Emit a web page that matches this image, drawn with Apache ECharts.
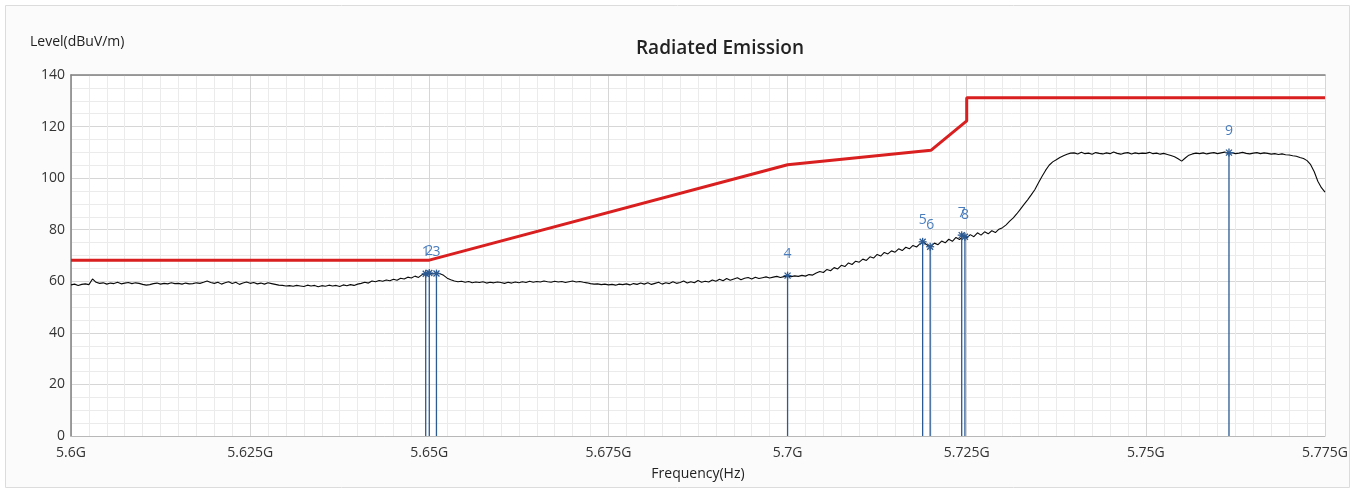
<!DOCTYPE html>
<html>
<head>
<meta charset="utf-8">
<script src="https://cdn.jsdelivr.net/npm/echarts@6/dist/echarts.min.js"></script>
<style>
html,body{margin:0;padding:0;background:#ffffff;}
#chart{width:1361px;height:490px;}
</style>
</head>
<body>
<div id="chart"></div>
<script>
// Sweep definition (MHz)
var sweepStartMHz = 5600;
var sweepStepMHz = 0.5;

var traceLevel = [
58.6,58.9,58.4,58.8,59.0,58.7,60.9,59.6,59.2,59.4,58.9,59.3,59.1,59.6,59.0,59.3,59.5,59.1,59.4,59.2,
58.8,58.5,58.7,59.1,59.3,58.9,59.2,59.0,59.4,59.1,59.2,58.9,59.3,59.0,59.1,59.4,59.2,59.6,60.1,59.5,
59.2,59.6,58.9,59.4,59.8,59.1,59.6,58.8,59.3,59.7,59.2,59.5,59.0,59.3,58.9,59.4,59.1,58.8,58.5,58.4,
58.2,58.3,58.1,58.4,58.2,58.0,58.5,58.2,58.4,57.9,58.3,58.1,58.5,58.2,58.4,58.0,58.6,58.3,58.7,58.4,
58.9,59.2,59.6,59.3,60.1,59.8,60.3,60.0,60.5,60.2,60.8,60.4,61.2,60.9,61.6,61.3,62.0,61.5,62.6,62.9,
63.2,62.8,63.4,62.9,62.3,61.2,60.6,60.1,59.8,60.0,59.6,59.9,59.4,59.7,59.5,59.8,59.3,59.6,59.4,59.7,
59.5,59.2,59.6,59.3,59.7,59.4,59.8,59.5,60.0,59.6,59.9,59.7,60.1,59.8,59.6,60.0,59.7,59.9,59.5,59.8,
60.1,59.7,59.9,59.6,59.4,59.1,58.9,59.0,58.7,58.9,58.6,58.8,58.5,58.9,58.7,59.0,58.6,59.1,58.8,59.3,
58.9,59.4,58.8,59.2,59.6,58.9,59.4,59.1,59.8,59.2,59.5,60.1,59.3,59.8,59.4,60.3,59.6,60.0,59.7,60.5,
60.0,60.8,60.2,61.1,60.4,60.9,61.4,60.6,61.2,61.5,60.9,61.6,61.1,61.4,61.7,61.3,61.6,61.9,61.5,61.8,
62.0,61.8,62.1,61.9,62.3,62.0,62.6,62.4,63.2,63.8,63.4,64.6,64.1,65.3,64.8,66.2,65.7,67.1,66.5,67.8,
67.4,68.6,68.1,69.5,69.0,70.4,69.8,71.2,70.6,71.8,71.3,72.6,71.9,73.2,72.6,73.9,73.3,74.6,75.2,74.0,
73.6,74.8,74.2,75.6,74.9,76.3,75.5,77.0,76.2,77.6,76.8,78.1,77.3,78.8,77.9,79.2,78.4,79.6,78.9,80.2,
80.8,81.9,83.3,84.6,86.2,88.0,89.8,91.6,93.5,95.5,98.1,100.6,103.0,105.0,106.3,107.1,108.0,108.7,109.3,109.7,
109.8,109.4,110.0,109.5,109.7,109.3,109.9,109.6,109.4,109.8,109.5,110.1,109.6,109.3,109.7,109.9,109.4,109.8,109.5,109.7,
109.6,110.0,109.5,109.7,109.3,109.6,109.2,108.8,108.3,107.5,106.6,107.8,108.9,109.4,109.7,109.5,109.8,109.4,109.7,109.9,
109.5,109.8,110.1,109.6,109.9,109.5,109.7,110.0,109.6,109.4,109.7,109.9,109.5,109.8,109.6,109.3,109.5,109.2,109.4,109.1,
109.0,108.7,108.5,108.0,107.6,106.8,105.2,102.5,98.8,96.3,94.6
];

// Limit line corners
var limitFreqMHz = [5600, 5650, 5700, 5720, 5725, 5725, 5775];
var limitLevel   = [68.2, 68.2, 105.2, 110.8, 122.2, 131.2, 131.2];

// Markers
var markerNames   = ['1', '2', '3', '4', '5', '6', '7', '8', '9'];
var markerFreqMHz = [5649.5, 5650.0, 5651.0, 5700.0, 5718.85, 5719.9, 5724.3, 5724.75, 5761.6];
var markerLevel   = [62.9, 63.2, 63.0, 62.2, 75.3, 73.4, 77.9, 77.3, 109.9];

// Axis ticks
var xTickMin = 5600, xTickMax = 5775, xTickStep = 25;
var yTickMin = 0, yTickMax = 140, yTickStep = 20;

var traceData = traceLevel.map(function (v, i) { return [sweepStartMHz + i * sweepStepMHz, v]; });
var limitData = limitFreqMHz.map(function (f, i) { return [f, limitLevel[i]]; });
var markerData = markerFreqMHz.map(function (f, i) { return [f, markerLevel[i], markerNames[i]]; });

var FONT = '"Open Sans", "Noto Sans", sans-serif';
var markerColor = '#2c5a93';
var markerLabelColor = '#4a7dbd';

var chart = echarts.init(document.getElementById('chart'), null, { renderer: 'canvas' });

chart.setOption({
  animation: false,
  backgroundColor: '#ffffff',
  graphic: [
    {
      type: 'rect', z: -10, silent: true,
      shape: { x: 5.5, y: 5.5, width: 1344, height: 482 },
      style: { fill: '#fbfbfb', stroke: '#dcdcdc', lineWidth: 1 }
    },
    {
      type: 'text', left: 30, top: 35, z: 10,
      style: { text: 'Level(dBuV/m)', font: '14px ' + FONT, fill: '#222222' }
    }
  ],
  title: {
    text: 'Radiated Emission',
    left: 715,
    textAlign: 'center',
    top: 34,
    textStyle: { fontFamily: FONT, fontSize: 19, fontWeight: 600, color: '#222222' }
  },
  grid: {
    left: 71, right: 36, top: 75, bottom: 54,
    show: true, backgroundColor: '#ffffff', borderWidth: 0
  },
  xAxis: [
    {
      type: 'value',
      min: xTickMin, max: xTickMax, interval: xTickStep,
      name: 'Frequency(Hz)', nameLocation: 'middle', nameGap: 31,
      nameTextStyle: { fontFamily: FONT, fontSize: 14, color: '#222222' },
      axisLine: { show: true, lineStyle: { color: '#b8b8b8', width: 1 } },
      axisTick: { show: false },
      axisLabel: {
        margin: 10, fontFamily: FONT, fontSize: 14, color: '#333333',
        formatter: function (v) { return parseFloat((v / 1000).toFixed(4)) + 'G'; }
      },
      splitLine: { show: true, lineStyle: { color: '#d6d6d6', width: 1 } },
      minorTick: { show: false, splitNumber: 10 },
      minorSplitLine: { show: true, lineStyle: { color: '#ebebeb', width: 1 } }
    },
    {
      type: 'value', position: 'top',
      min: xTickMin, max: xTickMax, interval: xTickStep,
      axisLine: { show: true, lineStyle: { color: '#808080', width: 1.5 } },
      axisTick: { show: false }, axisLabel: { show: false },
      splitLine: { show: false }
    }
  ],
  yAxis: {
    type: 'value',
    min: yTickMin, max: yTickMax, interval: yTickStep,
    axisLine: { show: true, lineStyle: { color: '#808080', width: 1.5 } },
    axisTick: { show: false },
    axisLabel: { margin: 6, fontFamily: FONT, fontSize: 14, color: '#333333' },
    splitLine: { show: true, lineStyle: { color: '#d6d6d6', width: 1 } },
    minorTick: { show: false, splitNumber: 4 },
    minorSplitLine: { show: true, lineStyle: { color: '#ebebeb', width: 1 } }
  },
  series: [
    {
      name: 'Limit', type: 'line', data: limitData,
      showSymbol: false, symbol: 'none', z: 3,
      lineStyle: { color: '#d91f1f', width: 3 }
    },
    {
      name: 'Level', type: 'line', data: traceData,
      showSymbol: false, symbol: 'none', z: 4,
      lineStyle: { color: '#0a0a0a', width: 1.1 }
    },
    {
      name: 'Markers', type: 'custom', data: markerData, z: 5,
      encode: { x: 0, y: 1 },
      renderItem: function (params, api) {
        var top = api.coord([api.value(0), api.value(1)]);
        var bot = api.coord([api.value(0), 0]);
        var name = markerNames[params.dataIndex];
        var s = 4;
        var cx = top[0], cy = top[1];
        var lineStyle = { stroke: markerColor, lineWidth: 1.3 };
        return {
          type: 'group',
          children: [
            { type: 'line', shape: { x1: cx, y1: cy, x2: bot[0], y2: bot[1] }, style: lineStyle },
            { type: 'line', shape: { x1: cx - s, y1: cy, x2: cx + s, y2: cy }, style: lineStyle },
            { type: 'line', shape: { x1: cx, y1: cy - s, x2: cx, y2: cy + s }, style: lineStyle },
            { type: 'line', shape: { x1: cx - s * 0.75, y1: cy - s * 0.75, x2: cx + s * 0.75, y2: cy + s * 0.75 }, style: lineStyle },
            { type: 'line', shape: { x1: cx - s * 0.75, y1: cy + s * 0.75, x2: cx + s * 0.75, y2: cy - s * 0.75 }, style: lineStyle },
            {
              type: 'text',
              style: {
                text: name, x: cx, y: cy - 22,
                align: 'center', verticalAlign: 'middle',
                font: '14px ' + FONT, fill: markerLabelColor
              }
            }
          ]
        };
      }
    }
  ]
});
</script>
</body>
</html>
